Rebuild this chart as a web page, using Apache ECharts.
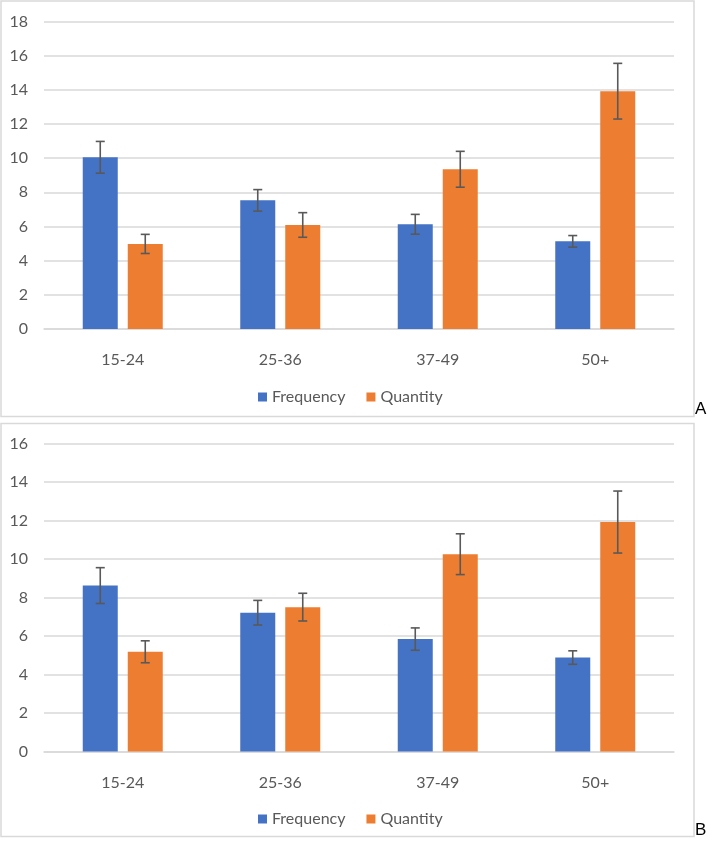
<!DOCTYPE html>
<html>
<head>
<meta charset="utf-8">
<script src="https://cdn.jsdelivr.net/npm/echarts@6/dist/echarts.min.js"></script>
<style>
html,body{margin:0;padding:0;background:#fff;}
#chart{width:709px;height:841px;}
</style>
</head>
<body>
<div id="chart"></div>
<script>
var categories = ['15-24', '25-36', '37-49', '50+'];
var seriesNames = ['Frequency', 'Quantity'];

// Panel A
var freqA = [10.05, 7.53, 6.13, 5.13];
var freqErrA = [0.93, 0.63, 0.58, 0.34];
var qtyA = [4.98, 6.09, 9.35, 13.92];
var qtyErrA = [0.56, 0.72, 1.05, 1.63];

// Panel B
var freqB = [8.62, 7.21, 5.84, 4.88];
var freqErrB = [0.93, 0.64, 0.58, 0.35];
var qtyB = [5.18, 7.50, 10.25, 11.92];
var qtyErrB = [0.57, 0.72, 1.06, 1.61];

var yTicksA = {min: 0, max: 18, interval: 2};
var yTicksB = {min: 0, max: 16, interval: 2};
var panelLabels = ['A', 'B'];

var BLUE = '#4472C4', ORANGE = '#ED7D31', GRID = '#d9d9d9', TXT = '#595959';
var FONT = 'Lato';
var BAR_W = 35, BAR_GAP = 10;
var OFF = (BAR_W + BAR_GAP) / 2;

function errData(vals, errs) {
  return vals.map(function (v, i) { return [i, v - errs[i], v + errs[i]]; });
}
function errRender(offset) {
  return function (params, api) {
    var x = api.value(0);
    var lo = api.coord([x, api.value(1)]);
    var hi = api.coord([x, api.value(2)]);
    var cx = lo[0] + offset;
    var cap = 4.5;
    var st = {stroke: '#595959', lineWidth: 1.6};
    return {
      type: 'group',
      children: [
        {type: 'line', shape: {x1: cx, y1: hi[1], x2: cx, y2: lo[1]}, style: st},
        {type: 'line', shape: {x1: cx - cap, y1: hi[1], x2: cx + cap, y2: hi[1]}, style: st},
        {type: 'line', shape: {x1: cx - cap, y1: lo[1], x2: cx + cap, y2: lo[1]}, style: st}
      ]
    };
  };
}

function xAxisCfg(gi) {
  return {
    type: 'category', gridIndex: gi, data: categories,
    axisLine: {show: true, lineStyle: {color: GRID, width: 1.5}},
    axisTick: {show: false},
    axisLabel: {color: TXT, fontFamily: FONT, fontSize: 16, margin: 23}
  };
}
function yAxisCfg(gi, t) {
  return {
    type: 'value', gridIndex: gi, min: t.min, max: t.max, interval: t.interval,
    axisLine: {show: false}, axisTick: {show: false},
    splitLine: {lineStyle: {color: GRID, width: 1.5}},
    axisLabel: {color: TXT, fontFamily: FONT, fontSize: 16, margin: 16, padding: [6, 0, 0, 0]}
  };
}
function barSeries(name, data, color, gi) {
  return {
    type: 'bar', name: name, xAxisIndex: gi, yAxisIndex: gi, data: data,
    barWidth: BAR_W, barGap: (BAR_GAP / BAR_W * 100) + '%',
    itemStyle: {color: color}, emphasis: {disabled: true}
  };
}
function errSeries(vals, errs, offset, gi) {
  return {
    type: 'custom', xAxisIndex: gi, yAxisIndex: gi, z: 5,
    data: errData(vals, errs), renderItem: errRender(offset), silent: true
  };
}

var legendCommon = {
  data: seriesNames, left: 253, itemWidth: 9, itemHeight: 9, itemGap: 21, icon: 'rect',
  textStyle: {color: TXT, fontFamily: FONT, fontSize: 16}, selectedMode: false
};

var option = {
  animation: false,
  color: [BLUE, ORANGE],
  grid: [
    {left: 44, right: 35, top: 21.5, height: 307.5},
    {left: 44, right: 35, top: 443.5, height: 308}
  ],
  xAxis: [xAxisCfg(0), xAxisCfg(1)],
  yAxis: [yAxisCfg(0, yTicksA), yAxisCfg(1, yTicksB)],
  legend: [
    Object.assign({top: 384}, legendCommon),
    Object.assign({top: 806}, legendCommon)
  ],
  series: [
    barSeries(seriesNames[0], freqA, BLUE, 0),
    barSeries(seriesNames[1], qtyA, ORANGE, 0),
    errSeries(freqA, freqErrA, -OFF, 0),
    errSeries(qtyA, qtyErrA, OFF, 0),
    barSeries(seriesNames[0], freqB, BLUE, 1),
    barSeries(seriesNames[1], qtyB, ORANGE, 1),
    errSeries(freqB, freqErrB, -OFF, 1),
    errSeries(qtyB, qtyErrB, OFF, 1)
  ],
  graphic: [
    {type: 'rect', shape: {x: 1, y: 1, width: 693, height: 415.5}, style: {fill: 'none', stroke: GRID, lineWidth: 1.5}, z: -1},
    {type: 'rect', shape: {x: 1, y: 423.5, width: 693, height: 413}, style: {fill: 'none', stroke: GRID, lineWidth: 1.5}, z: -1},
    {type: 'text', left: 695, top: 401, style: {text: panelLabels[0], fill: '#000', font: '17px "Liberation Sans"'}},
    {type: 'text', left: 695, top: 822, style: {text: panelLabels[1], fill: '#000', font: '17px "Liberation Sans"'}}
  ]
};

var chart = echarts.init(document.getElementById('chart'), null, {renderer: 'canvas'});
chart.setOption(option);
</script>
</body>
</html>
